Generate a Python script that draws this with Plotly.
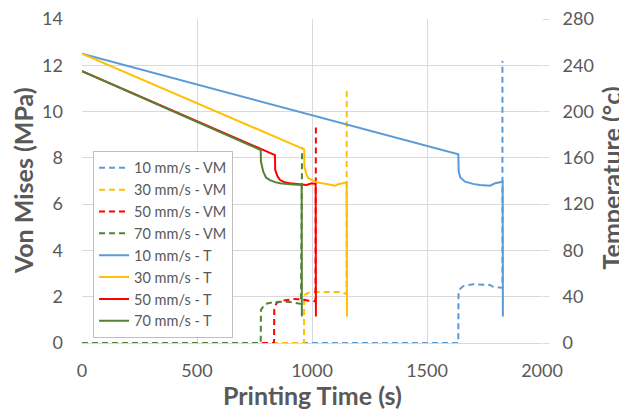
import plotly.graph_objects as go

# ---- Von Mises stress (MPa), primary axis ----
t_vm_10 = [0, 1636, 1637, 1645, 1658, 1700, 1774, 1788, 1825, 1828, 1828]
vm_10 = [0, 0, 2.15, 2.35, 2.46, 2.54, 2.51, 2.43, 2.39, 2.38, 12.2]
t_vm_30 = [0, 965, 966, 975, 984, 1020, 1125, 1140, 1150, 1151]
vm_30 = [0, 0, 2.07, 2.14, 2.17, 2.2, 2.2, 2.15, 2.12, 10.98]
t_vm_50 = [0, 835, 836, 846, 875, 919, 962, 984, 1015, 1017]
vm_50 = [0, 0, 1.45, 1.74, 1.83, 1.90, 1.88, 1.83, 1.80, 9.4]
t_vm_70 = [0, 777, 778, 796, 832, 875, 919, 952, 957]
vm_70 = [0, 0, 1.43, 1.69, 1.76, 1.79, 1.75, 1.69, 8.46]

# ---- Temperature (°C), secondary axis ----
t_T_10 = [0, 1636, 1638, 1645, 1665, 1700, 1730, 1774, 1796, 1825, 1829, 1830]
T_10 = [250, 163, 148, 143, 139.4, 137.5, 136.6, 136, 138, 139.4, 139.4, 22.8]
t_T_30 = [0, 966, 967, 975, 984, 1000, 1020, 1064, 1100, 1118, 1148, 1151, 1152]
T_30 = [250, 167.4, 152.4, 146, 142.4, 140.5, 138.8, 137.4, 136, 137.4, 138.8, 138.8, 22.8]
t_T_50 = [0, 839, 840, 850, 861, 880, 904, 948, 977, 998, 1012, 1016, 1017]
T_50 = [235, 162.4, 149.6, 144, 140.8, 139, 138, 137.2, 136.6, 138, 137.4, 137.4, 22.8]
t_T_70 = [0, 777, 778, 788, 800, 817, 840, 861, 904, 952, 955, 956]
T_70 = [235, 166.8, 156.8, 148, 143, 140.8, 139, 138, 137.2, 136.6, 136.6, 22.8]

series_names = ["10 mm/s", "30 mm/s", "50 mm/s", "70 mm/s"]
colors = ["#5B9BD5", "#FFC000", "#FF0000", "#548235"]

x_title = "Printing Time (s)"
y_title = "Von Mises (MPa)"
y2_title = "Temperature (°c)"

vm_t = [t_vm_10, t_vm_30, t_vm_50, t_vm_70]
vm_y = [vm_10, vm_30, vm_50, vm_70]
T_t = [t_T_10, t_T_30, t_T_50, t_T_70]
T_y = [T_10, T_30, T_50, T_70]

fig = go.Figure()
for n, c, x, y in zip(series_names, colors, vm_t, vm_y):
    fig.add_trace(go.Scatter(x=x, y=y, mode="lines", name=n + " - VM",
                             line=dict(color=c, width=2, dash="6px,4px"), yaxis="y"))
for n, c, x, y in zip(series_names, colors, T_t, T_y):
    fig.add_trace(go.Scatter(x=x, y=y, mode="lines", name=n + " - T",
                             line=dict(color=c, width=2), yaxis="y2"))

grey = "#595959"
grid = "#D9D9D9"
title_font = dict(family="Lato", size=25, color=grey)

fig.update_layout(
    width=619, height=403,
    margin=dict(l=74, r=85, t=11, b=68, pad=0, autoexpand=False),
    paper_bgcolor="white", plot_bgcolor="white",
    font=dict(family="Lato", color=grey),
    xaxis=dict(range=[0, 2000], dtick=500, showgrid=True, gridcolor=grid, gridwidth=1,
               zeroline=False, showline=True, linecolor=grid, ticks="", automargin=False,
               ticklabelstandoff=11, ticklabeloverflow="allow",
               tickfont=dict(size=18, color=grey)),
    yaxis=dict(range=[0, 14], dtick=2, showgrid=True, gridcolor=grid, gridwidth=1,
               zeroline=False, showline=False, ticks="", automargin=False,
               ticklabelstandoff=18, ticklabeloverflow="allow",
               tickfont=dict(size=18, color=grey)),
    yaxis2=dict(range=[0, 280], dtick=40, overlaying="y", side="right", showgrid=False,
                zeroline=False, showline=False, ticks="outside", ticklen=6, tickcolor=grid,
                automargin=False, ticklabelstandoff=10, ticklabeloverflow="allow",
                tickfont=dict(size=18, color=grey)),
    legend=dict(x=0.024, y=0.593, xanchor="left", yanchor="top",
                bgcolor="white", bordercolor="#BFBFBF", borderwidth=1,
                font=dict(size=14.5, color=grey), itemwidth=30, tracegroupgap=0),
    annotations=[
        dict(text="<b>" + x_title + "</b>", xref="paper", yref="paper", x=0.5, y=-0.16,
             xanchor="center", yanchor="middle", showarrow=False, font=title_font),
        dict(text="<b>" + y_title + "</b>", xref="paper", yref="paper", x=-0.128, y=0.5,
             xanchor="center", yanchor="middle", textangle=-90, showarrow=False, font=title_font),
        dict(text="<b>" + y2_title + "</b>", xref="paper", yref="paper", x=1.15, y=0.508,
             xanchor="center", yanchor="middle", textangle=-90, showarrow=False, font=title_font),
    ],
)

fig.write_html("out.html")
